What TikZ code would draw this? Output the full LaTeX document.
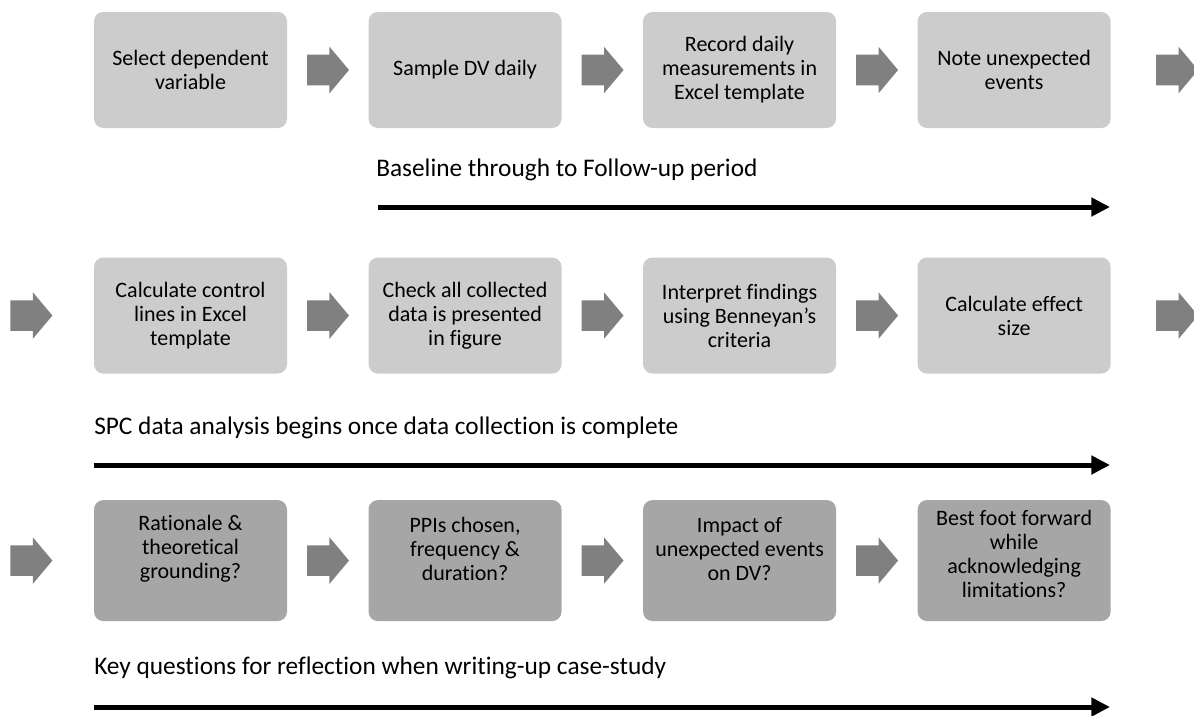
\documentclass[tikz,border=0pt]{standalone}
\usepackage{fontspec}
\setmainfont{Carlito}[Ligatures={TeX,NoCommon}]
\usetikzlibrary{arrows.meta,positioning,shapes.arrows}

\begin{document}
\begin{tikzpicture}[x=0.75pt,y=-0.75pt, node distance=60.75pt]
    \tikzstyle{stage}=[rectangle, rounded corners=7pt, fill=black!20, minimum width=144.75pt, minimum height=87pt, align=center, font=\fontsize{16.5}{18}\selectfont]
    \tikzstyle{question}=[stage, fill=black!35, minimum height=90.75pt]
    \tikzstyle{qtext}=[align=center, font=\fontsize{16.5}{18}\selectfont, yshift=9pt]
    \tikzstyle{move}=[single arrow, fill=black!50, inner xsep=0pt, inner ysep=11.25pt, minimum height=31.5pt, single arrow head extend=6pt, single arrow tip angle=100]
    \tikzstyle{period}=[line width=3.75pt, -{Triangle[length=14pt,width=13.5pt]}]
    \tikzstyle{caption}=[anchor=west, inner sep=0pt, font=\fontsize{19}{21}\selectfont]

    \useasboundingbox (0,0) rectangle (1194,715);

      % data collection
      \node[stage] (s1) at (190.5,70) {Select dependent\\variable};
      \node[stage] (s2) [right=of s1] {Sample DV daily};
      \node[stage] (s3) [right=of s2] {Record daily\\measurements in\\Excel template};
      \node[stage] (s4) [right=of s3] {Note unexpected\\events};
      \node[move, right=14.6pt of s1] (m12) {};
      \node[move, right=14.6pt of s2] (m23) {};
      \node[move, right=14.6pt of s3] (m34) {};
      \node[move, right=33.75pt of s4] (m4out) {};
      \node[caption] (cap1) at (376,170) {Baseline through to Follow-up period};
      \coordinate (p1a) at (378,207);
      \coordinate (p1b) at (1110,207);

      % analysis
      \node[stage] (c1) [below=96.75pt of s1] {Calculate control\\lines in Excel\\template};
      \node[stage] (c2) [right=of c1] {Check all collected\\data is presented\\in figure};
      \node[stage] (c3) [right=of c2] {Interpret findings\\using Benneyan's\\criteria};
      \node[stage] (c4) [right=of c3] {Calculate effect\\size};
      \node[move, left=30.75pt of c1] (m1in) {};
      \node[move, right=14.6pt of c1] (n12) {};
      \node[move, right=14.6pt of c2] (n23) {};
      \node[move, right=14.6pt of c3] (n34) {};
      \node[move, right=33.75pt of c4] (n4out) {};
      \node[caption] (cap2) at (94,428) {SPC data analysis begins once data collection is complete};
      \coordinate (p2a) at (94,465);
      \coordinate (p2b) at (1110,465);

      % reflection
      \node[question, label={[qtext]center:Rationale \&\\theoretical\\grounding?}] (q1) [below=94.5pt of c1] {};
      \node[question, label={[qtext]center:PPIs chosen,\\frequency \&\\duration?}] (q2) [right=of q1] {};
      \node[question, label={[qtext]center:Impact of\\unexpected events\\on DV?}] (q3) [right=of q2] {};
      \node[question, label={[qtext, yshift=-4pt]center:Best foot forward\\while\\acknowledging\\limitations?}] (q4) [right=of q3] {};
      \node[move, left=30.75pt of q1] (r1in) {};
      \node[move, right=14.6pt of q1] (r12) {};
      \node[move, right=14.6pt of q2] (r23) {};
      \node[move, right=14.6pt of q3] (r34) {};
      \node[caption] (cap3) at (94,668) {Key questions for reflection when writing-up case-study};
      \coordinate (p3a) at (94,707);
      \coordinate (p3b) at (1110,707);

      \draw[period] (p1a) -- (p1b);
      \draw[period] (p2a) -- (p2b);
      \draw[period] (p3a) -- (p3b);
    \end{tikzpicture}
\end{document}
